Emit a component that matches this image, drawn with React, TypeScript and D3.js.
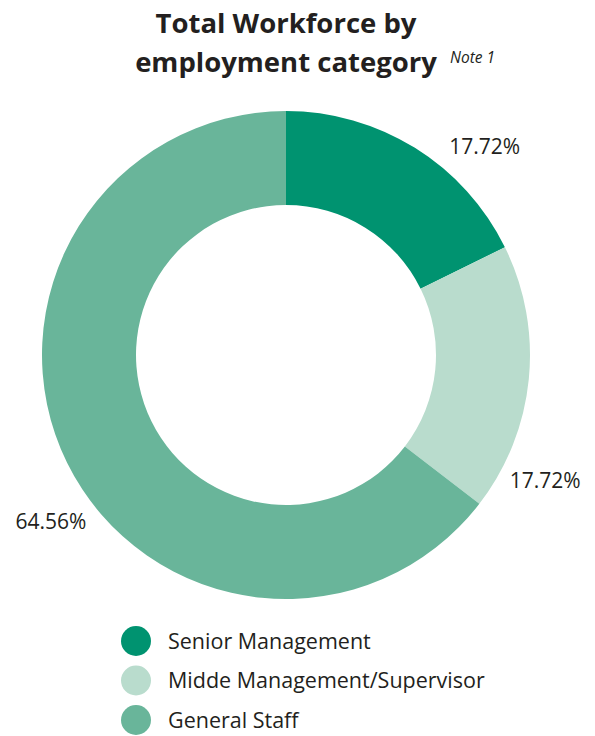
import { useEffect, useRef } from 'react'
import * as d3 from 'd3'

const categories = ['Senior Management', 'Midde Management/Supervisor', 'General Staff']
const shares = [17.72, 17.72, 64.56]
const shareLabels = ['17.72%', '17.72%', '64.56%']
const colors = ['#009370', '#b9dccd', '#69b59a']
// where each percentage label sits, relative to the slice middle (degrees)
const labelNudge = [11.7, 20.2, -9.1]

const width = 595
const height = 736
const cx = 286
const cy = 355
const outerR = 244
const innerR = 150
const font = '"Open Sans", "Noto Sans", sans-serif'
const ink = '#231f20'

export default function App() {
  const svgRef = useRef<SVGSVGElement>(null)

  useEffect(() => {
    if (!svgRef.current) return
    const svg = d3.select(svgRef.current)
    svg.selectAll('*').remove()

    svg.append('text')
      .attr('x', 286).attr('y', 33)
      .attr('text-anchor', 'middle')
      .attr('font-family', font)
      .attr('font-weight', 700)
      .attr('font-size', 27.5)
      .attr('fill', ink)
      .text('Total Workforce by')
    svg.append('text')
      .attr('x', 286).attr('y', 72)
      .attr('text-anchor', 'middle')
      .attr('font-family', font)
      .attr('font-weight', 700)
      .attr('font-size', 27.5)
      .attr('fill', ink)
      .text('employment category')
    svg.append('text')
      .attr('x', 450).attr('y', 63)
      .attr('font-family', font)
      .attr('font-style', 'italic')
      .attr('font-size', 15.5)
      .attr('fill', ink)
      .text('Note 1')

    const pie = d3.pie<number>().sort(null).value(d => d)
    const arcs = pie(shares)
    const arc = d3.arc<d3.PieArcDatum<number>>().innerRadius(innerR).outerRadius(outerR)

    const g = svg.append('g').attr('transform', `translate(${cx},${cy})`)
    g.selectAll('path')
      .data(arcs)
      .enter().append('path')
      .attr('d', arc)
      .attr('fill', (_, i) => colors[i])

    const labelR = 288
    const labelAngle = (d: d3.PieArcDatum<number>, i: number) =>
      (d.startAngle + d.endAngle) / 2 + labelNudge[i] * Math.PI / 180
    g.selectAll('text.pct')
      .data(arcs)
      .enter().append('text')
      .attr('class', 'pct')
      .attr('x', (d, i) => labelR * Math.sin(labelAngle(d, i)))
      .attr('y', (d, i) => -labelR * Math.cos(labelAngle(d, i)))
      .attr('dy', '0.35em')
      .attr('text-anchor', 'middle')
      .attr('font-family', font)
      .attr('font-size', 21)
      .attr('fill', ink)
      .text((_, i) => shareLabels[i])

    const legendY = d3.scalePoint<string>().domain(categories).range([641, 720])
    const legend = svg.append('g')
    legend.selectAll('circle')
      .data(categories)
      .enter().append('circle')
      .attr('cx', 136)
      .attr('cy', d => legendY(d) ?? 0)
      .attr('r', 15)
      .attr('fill', (_, i) => colors[i])
    legend.selectAll('text')
      .data(categories)
      .enter().append('text')
      .attr('x', 168)
      .attr('y', d => legendY(d) ?? 0)
      .attr('dy', '0.35em')
      .attr('font-family', font)
      .attr('font-size', 21.5)
      .attr('fill', ink)
      .text(d => d)
  }, [])

  return <svg ref={svgRef} width={width} height={height} style={{ position: 'absolute', left: 0, top: 0 }} />
}
